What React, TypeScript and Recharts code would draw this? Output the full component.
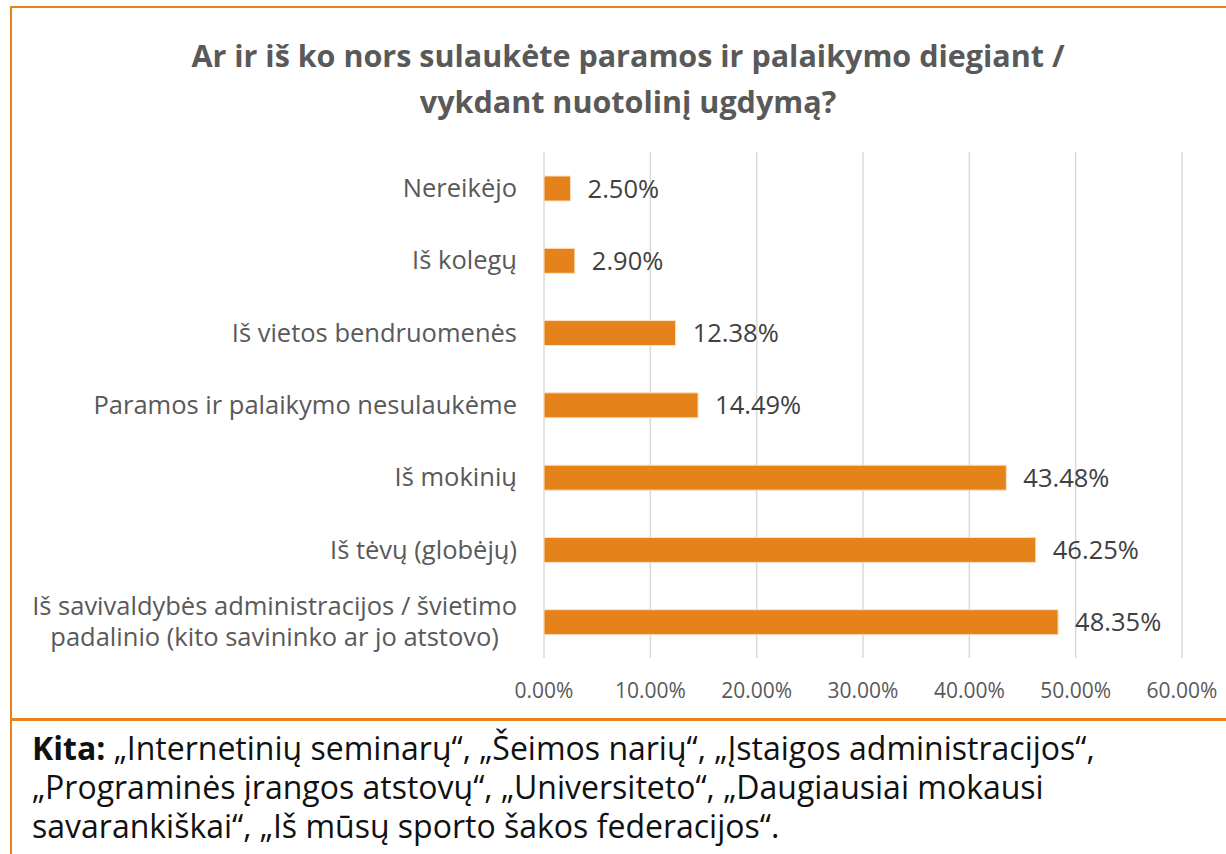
import React from "react";
import { BarChart, Bar, XAxis, YAxis, CartesianGrid, LabelList } from "recharts";

const categories: string[] = [
  "Nereikėjo",
  "Iš kolegų",
  "Iš vietos bendruomenės",
  "Paramos ir palaikymo nesulaukėme",
  "Iš mokinių",
  "Iš tėvų (globėjų)",
  "Iš savivaldybės administracijos / švietimo\npadalinio (kito savininko ar jo atstovo)",
];
const values: number[] = [2.5, 2.9, 12.38, 14.49, 43.48, 46.25, 48.35];
const xTicks: number[] = [0, 10, 20, 30, 40, 50, 60];

const titleLines = ["Ar ir iš ko nors sulaukėte paramos ir palaikymo diegiant /", "vykdant nuotolinį ugdymą?"];

const data = categories.map((c, i) => ({ name: c, value: values[i] }));

const FONT = "'Open Sans', 'Noto Sans', sans-serif";
const ORANGE = "#E6821A";

let ctx: CanvasRenderingContext2D | null = null;
function measure(text: string, font: string): number {
  if (!ctx) {
    const c = document.createElement("canvas");
    ctx = c.getContext("2d");
  }
  if (!ctx) return text.length * 11;
  ctx.font = font;
  return ctx.measureText(text).width;
}

const Y_FONT_SIZE = 25.5;

const YTick = (props: any) => {
  const { x, y, payload } = props;
  const lines: string[] = String(payload.value).split("\n");
  const lh = 31;
  if (lines.length === 1) {
    return (
      <text x={x} y={y} dy="0.355em" textAnchor="end" fill="#595959" fontSize={Y_FONT_SIZE} fontFamily={FONT}>
        {lines[0]}
      </text>
    );
  }
  const widths = lines.map((l) => measure(l, `${Y_FONT_SIZE}px 'Open Sans'`));
  const maxW = Math.max(...widths);
  const cx = x - maxW / 2;
  const start = y - ((lines.length - 1) * lh) / 2;
  return (
    <text textAnchor="middle" fill="#595959" fontSize={Y_FONT_SIZE} fontFamily={FONT}>
      {lines.map((l, i) => (
        <tspan key={i} x={cx} y={start + i * lh} dy="0.355em">
          {l}
        </tspan>
      ))}
    </text>
  );
};

const XTick = (props: any) => {
  const { x, y, payload } = props;
  return (
    <text x={x} y={y} dy="0.355em" textAnchor="middle" fill="#595959" fontSize={21} fontFamily={FONT}>
      {`${Number(payload.value).toFixed(2)}%`}
    </text>
  );
};

export default function App() {
  return (
    <div style={{ position: "absolute", left: 0, top: 0, width: 1226, height: 854, background: "#fff", overflow: "hidden", fontFamily: FONT }}>
      <div
        style={{
          position: "absolute",
          left: 10,
          top: 6,
          width: 1300,
          height: 714,
          borderLeft: `2px solid ${ORANGE}`,
          borderTop: `2px solid ${ORANGE}`,
          boxSizing: "border-box",
        }}
      />
      <div
        style={{
          position: "absolute",
          left: 28,
          top: 32,
          width: 1200,
          textAlign: "center",
          color: "#595959",
          fontWeight: 700,
          fontSize: 30.5,
          lineHeight: "46px",
          whiteSpace: "nowrap",
        }}
      >
        {titleLines.map((t, i) => (
          <div key={i}>{t}</div>
        ))}
      </div>
      <div style={{ position: "absolute", left: 0, top: 0 }}>
        <BarChart
          width={1226}
          height={720}
          data={data}
          layout="vertical"
          margin={{ top: 152, right: 44, bottom: 22, left: 10 }}
          barSize={25}
        >
          <CartesianGrid horizontal={false} vertical={true} stroke="#D9D9D9" strokeWidth={1.5} />
          <XAxis
            type="number"
            domain={[0, 60]}
            ticks={xTicks}
            axisLine={false}
            tickLine={false}
            tickSize={0}
            tickMargin={33}
            height={40}
            tick={<XTick />}
            interval={0}
          />
          <YAxis
            type="category"
            dataKey="name"
            width={534}
            axisLine={false}
            tickLine={false}
            tickSize={0}
            tickMargin={27}
            tick={<YTick />}
            interval={0}
          />
          <Bar dataKey="value" fill={ORANGE} stroke="#FBE3C8" strokeWidth={1} isAnimationActive={false}>
            <LabelList
              dataKey="value"
              position="right"
              offset={17}
              fill="#404040"
              fontSize={25.5}
              fontFamily={FONT}
              formatter={(v: any) => `${Number(v).toFixed(2)}%`}
            />
          </Bar>
        </BarChart>
      </div>
      <div
        style={{
          position: "absolute",
          left: 10,
          top: 718,
          width: 1300,
          height: 200,
          borderLeft: `2px solid ${ORANGE}`,
          borderTop: `3px solid ${ORANGE}`,
          boxSizing: "border-box",
        }}
      />
      <div
        style={{
          position: "absolute",
          left: 32,
          top: 728,
          width: 1190,
          color: "#111",
          fontSize: 32,
          lineHeight: "39px",
          whiteSpace: "nowrap",
        }}
      >
        <b>Kita:</b> „Internetinių seminarų“, „Šeimos narių“, „Įstaigos administracijos“,
        <br />
        „Programinės įrangos atstovų“, „Universiteto“, „Daugiausiai mokausi
        <br />
        savarankiškai“, „Iš mūsų sporto šakos federacijos“.
      </div>
    </div>
  );
}
